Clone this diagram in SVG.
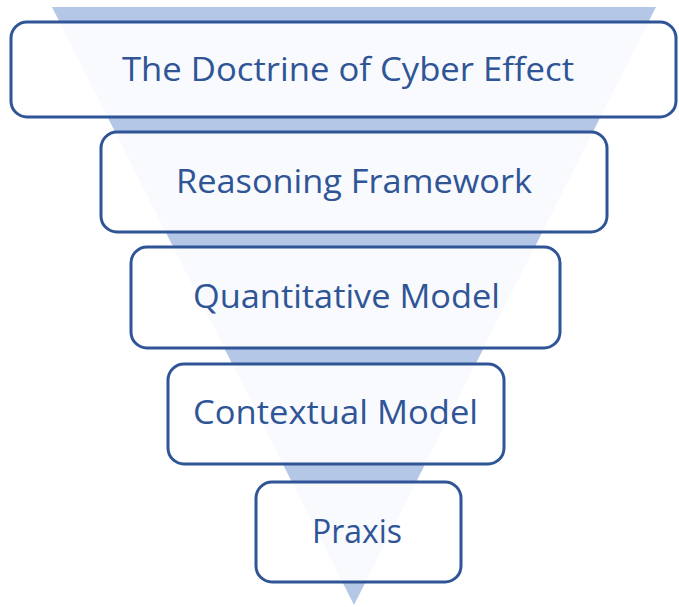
<svg xmlns="http://www.w3.org/2000/svg" width="679" height="607" viewBox="0 0 679 607">
  <style>
    .box { fill: #ffffff; fill-opacity: 0.9; stroke: #2f5597; stroke-width: 3; }
    .lbl { font-family: "Open Sans", "Noto Sans", "Liberation Sans", sans-serif; font-size: 32px; fill: #2f5597; }
  </style>
  <rect width="679" height="607" fill="#ffffff"/>
  <g id="funnel">
    <polygon points="52,7 656,7 354,605" fill="#b4c7e7"/>
  </g>
  <g id="connectors"></g>
  <g id="node-doctrine">
    <rect class="box" x="11" y="22" width="665" height="95" rx="16"/>
    <text class="lbl" x="122" y="81" textLength="452" lengthAdjust="spacingAndGlyphs">The Doctrine of Cyber Effect</text>
  </g>
  <g id="node-reasoning">
    <rect class="box" x="101" y="132" width="506" height="100" rx="16"/>
    <text class="lbl" x="176" y="193" textLength="356" lengthAdjust="spacingAndGlyphs">Reasoning Framework</text>
  </g>
  <g id="node-quantitative">
    <rect class="box" x="131" y="247" width="429" height="101" rx="16"/>
    <text class="lbl" x="193" y="308" textLength="307" lengthAdjust="spacingAndGlyphs">Quantitative Model</text>
  </g>
  <g id="node-contextual">
    <rect class="box" x="168" y="364" width="336" height="100" rx="16"/>
    <text class="lbl" x="193" y="424" textLength="285" lengthAdjust="spacingAndGlyphs">Contextual Model</text>
  </g>
  <g id="node-praxis">
    <rect class="box" x="256" y="482" width="205" height="100" rx="16"/>
    <text class="lbl" x="312" y="543" textLength="90" lengthAdjust="spacingAndGlyphs">Praxis</text>
  </g>
</svg>
